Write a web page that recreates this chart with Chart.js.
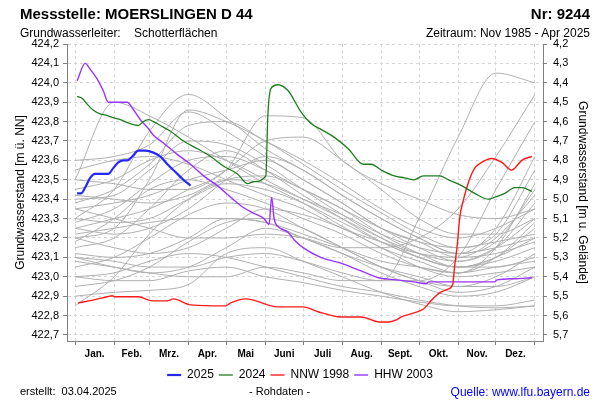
<!DOCTYPE html>
<html>
<head>
<meta charset="utf-8">
<script src="https://cdn.jsdelivr.net/npm/chart.js@4.4.1/dist/chart.umd.min.js"></script>
<style>
body { margin: 0; background: #fff; font-family: "Liberation Sans", Arial, sans-serif; }
#wrap { position: relative; width: 600px; height: 400px; }
canvas { position: absolute; left: 0; top: 0; }
.t { position: absolute; white-space: pre; color: #000; line-height: 1; }
</style>
</head>
<body>
<div id="wrap">
  <canvas id="chart" width="600" height="400"></canvas>
  <div class="t" style="left:20px;top:6px;font-size:15px;font-weight:bold">Messstelle: MOERSLINGEN D 44</div>
  <div class="t" style="right:10px;top:6px;font-size:15px;font-weight:bold">Nr: 9244</div>
  <div class="t" style="left:20px;top:27px;font-size:12px">Grundwasserleiter:    Schotterflächen</div>
  <div class="t" style="right:10px;top:27px;font-size:12px">Zeitraum: Nov 1985 - Apr 2025</div>
  <div class="t" style="left:20px;top:386px;font-size:11px">erstellt:  03.04.2025</div>
  <div class="t" style="left:249px;top:386px;font-size:11px">- Rohdaten -</div>
  <div class="t" style="right:10px;top:386px;font-size:12px;color:#0000ff">Quelle: www.lfu.bayern.de</div>
</div>
<script>
// x values are day of year (0 = 1. Jan)
const monthStarts = [0, 31, 59, 90, 120, 151, 181, 212, 243, 273, 304, 334, 365];
const monthMids = [15.5, 45, 74.5, 105, 135.5, 166, 196.5, 227.5, 258, 288.5, 319, 349.5];
const monthNames = ['Jan.', 'Feb.', 'Mrz.', 'Apr.', 'Mai', 'Juni', 'Juli', 'Aug.', 'Sept.', 'Okt.', 'Nov.', 'Dez.'];
const levelTicks = [422.7, 422.8, 422.9, 423.0, 423.1, 423.2, 423.3, 423.4, 423.5, 423.6, 423.7, 423.8, 423.9, 424.0, 424.1, 424.2];
const depthTicks = [4.2, 4.3, 4.4, 4.5, 4.6, 4.7, 4.8, 4.9, 5.0, 5.1, 5.2, 5.3, 5.4, 5.5, 5.6, 5.7];
const groundLevel = 428.4;

const days2025 = [1.6, 4.8, 8, 12, 15.9, 22.3, 26.3, 30.3, 34.3, 38.3, 41.4, 45.4, 50.2, 55.8, 62.2, 67.7, 73.3, 79.7, 86, 91.6];
const level2025 = [423.43, 423.43, 423.46, 423.51, 423.53, 423.53, 423.53, 423.56, 423.59, 423.6, 423.6, 423.62, 423.65, 423.65, 423.64, 423.62, 423.58, 423.54, 423.5, 423.47];

const days2024 = [1.6, 5.6, 9.6, 14.3, 19.9, 26.3, 30.3, 35.9, 43.8, 50.2, 54.2, 58.2, 62.2, 67.7, 75.7, 86, 97.2, 107.6, 118, 129, 137, 141.9, 151.4, 153, 155.4, 161, 169, 179.3, 187.3, 195.3, 205.6, 216.8, 228.7, 235, 243, 253.4, 261.4, 268.6, 276.5, 289.3, 296.5, 306.8, 317.2, 328.3, 333.1, 341.1, 349, 354.6, 362.6];
const level2024 = [423.93, 423.92, 423.89, 423.86, 423.84, 423.83, 423.82, 423.81, 423.79, 423.78, 423.8, 423.81, 423.8, 423.78, 423.75, 423.7, 423.66, 423.62, 423.57, 423.53, 423.48, 423.49, 423.52, 423.83, 423.97, 423.99, 423.96, 423.85, 423.79, 423.76, 423.72, 423.66, 423.58, 423.58, 423.55, 423.52, 423.51, 423.5, 423.52, 423.52, 423.5, 423.47, 423.43, 423.4, 423.41, 423.43, 423.46, 423.46, 423.44];

const days1998 = [2.4, 14.3, 25.5, 29.5, 31.9, 50.2, 61.4, 73.3, 78.1, 91.6, 119.5, 123.5, 135.5, 161, 181, 192.9, 211.2, 227.1, 241.5, 248.6, 255, 259, 267, 276.5, 283, 289.3, 296.5, 299.7, 301.2, 303.6, 305.2, 308.4, 312.4, 317.2, 322.8, 330.7, 338.7, 346.7, 349, 354.6, 362.6];
const level1998 = [422.865, 422.88, 422.897, 422.902, 422.897, 422.897, 422.876, 422.876, 422.886, 422.855, 422.85, 422.865, 422.886, 422.845, 422.845, 422.82, 422.793, 422.793, 422.767, 422.767, 422.778, 422.793, 422.81, 422.834, 422.88, 422.917, 422.938, 422.96, 423.05, 423.18, 423.3, 423.4, 423.49, 423.56, 423.59, 423.61, 423.59, 423.55, 423.56, 423.6, 423.62];

const days2003 = [1.6, 8, 12, 17.5, 22.3, 26.3, 30.3, 35.9, 41.4, 45.4, 51.8, 57.4, 62.2, 70.1, 81.3, 91.6, 102, 113, 123.5, 133, 141, 150, 154, 156, 158, 161, 169, 174, 181, 195, 211, 227, 241, 255, 269, 279, 280.5, 301, 333, 335, 349, 362.6];
const level2003 = [424.01, 424.1, 424.07, 424.02, 423.96, 423.9, 423.9, 423.9, 423.9, 423.87, 423.81, 423.77, 423.73, 423.69, 423.63, 423.58, 423.52, 423.47, 423.41, 423.36, 423.33, 423.3, 423.27, 423.41, 423.3, 423.26, 423.23, 423.19, 423.15, 423.1, 423.07, 423.03, 422.995, 422.984, 422.974, 422.964, 422.974, 422.974, 422.974, 422.984, 422.99, 422.995];

// other years, one value per month start (+ 31. Dez.)
const grayLines = [
  [423.5, 423.9, 423.83, 423.72, 423.6, 423.48, 423.38, 423.26, 423.15, 423.08, 423.02, 423.05, 423.08],
  [423.3, 423.45, 423.75, 423.94, 423.82, 423.66, 423.55, 423.42, 423.3, 423.2, 423.12, 423.15, 423.2],
  [423.2, 423.25, 423.5, 423.86, 423.8, 423.7, 423.58, 423.45, 423.33, 423.22, 423.15, 423.18, 423.22],
  [423.25, 423.3, 423.35, 423.45, 423.55, 423.83, 423.82, 423.6, 423.48, 423.4, 423.32, 423.3, 423.35],
  [423.1, 423.05, 423.02, 423.0, 423.0, 423.05, 423.02, 422.98, 422.98, 423.3, 423.72, 424.05, 424.0],
  [423.35, 423.3, 423.25, 423.2, 423.2, 423.22, 423.2, 423.15, 423.15, 423.2, 423.35, 423.62, 423.94],
  [423.0, 422.98, 422.98, 423.03, 423.05, 423.0, 422.97, 422.93, 422.9, 422.87, 422.85, 422.85, 422.88],
  [422.85, 423.0, 423.22, 423.4, 423.5, 423.52, 423.45, 423.35, 423.22, 423.12, 423.05, 423.08, 423.15],
  [422.9, 422.92, 422.93, 422.96, 423.12, 423.15, 423.08, 423.0, 422.92, 422.86, 422.82, 422.83, 422.85],
  [423.45, 423.5, 423.6, 423.65, 423.6, 423.5, 423.4, 423.3, 423.2, 423.12, 423.08, 423.15, 423.3],
  [423.4, 423.42, 423.55, 423.7, 423.68, 423.58, 423.45, 423.32, 423.2, 423.1, 423.05, 423.1, 423.2],
  [423.35, 423.38, 423.42, 423.5, 423.55, 423.6, 423.5, 423.38, 423.25, 423.15, 423.08, 423.15, 423.38],
  [423.3, 423.28, 423.3, 423.4, 423.48, 423.45, 423.38, 423.28, 423.18, 423.1, 423.05, 423.05, 423.1],
  [423.25, 423.22, 423.25, 423.35, 423.5, 423.62, 423.55, 423.42, 423.3, 423.2, 423.12, 423.18, 423.45],
  [423.2, 423.15, 423.12, 423.15, 423.25, 423.35, 423.32, 423.25, 423.15, 423.05, 423.0, 423.02, 423.05],
  [423.15, 423.2, 423.35, 423.55, 423.65, 423.55, 423.42, 423.3, 423.18, 423.1, 423.05, 423.1, 423.25],
  [423.12, 423.1, 423.12, 423.2, 423.3, 423.28, 423.2, 423.12, 423.05, 423.0, 422.95, 422.95, 423.0],
  [423.05, 423.1, 423.2, 423.32, 423.38, 423.35, 423.25, 423.15, 423.05, 422.98, 422.95, 423.0, 423.12],
  [423.55, 423.6, 423.62, 423.58, 423.5, 423.42, 423.35, 423.25, 423.18, 423.12, 423.1, 423.2, 423.42],
  [423.5, 423.48, 423.45, 423.45, 423.55, 423.7, 423.72, 423.6, 423.45, 423.3, 423.22, 423.22, 423.3],
  [423.6, 423.62, 423.68, 423.85, 423.75, 423.62, 423.5, 423.38, 423.25, 423.18, 423.15, 423.22, 423.55],
  [423.22, 423.25, 423.28, 423.3, 423.3, 423.28, 423.22, 423.15, 423.08, 423.05, 423.02, 423.1, 423.28],
  [423.28, 423.35, 423.48, 423.6, 423.62, 423.55, 423.45, 423.35, 423.25, 423.18, 423.1, 423.12, 423.18],
  [422.95, 422.98, 423.05, 423.18, 423.28, 423.3, 423.25, 423.15, 423.05, 422.98, 422.92, 422.95, 423.05],
  [423.08, 423.05, 423.02, 423.05, 423.15, 423.25, 423.2, 423.12, 423.02, 422.95, 422.9, 422.92, 423.0],
  [423.38, 423.45, 423.58, 423.78, 423.8, 423.7, 423.6, 423.48, 423.35, 423.25, 423.2, 423.25, 423.35],
  [423.0, 423.02, 423.08, 423.12, 423.1, 423.05, 423.0, 422.95, 422.92, 422.88, 422.85, 422.84, 422.85],
  [423.18, 423.3, 423.45, 423.5, 423.45, 423.38, 423.3, 423.22, 423.12, 423.05, 423.02, 423.15, 423.48],
  [423.42, 423.4, 423.38, 423.42, 423.5, 423.48, 423.4, 423.32, 423.22, 423.15, 423.12, 423.25, 423.62],
  [423.1, 423.08, 423.05, 423.05, 423.1, 423.12, 423.08, 423.02, 422.98, 422.98, 423.1, 423.45, 423.8]
];

function toPoints(days, vals) {
    return days.map((d, i) => ({ x: d, y: vals[i] }));
}

const fixTicks = list => scale => { scale.ticks = list.map(v => ({ value: v })); };
const comma = v => v.toFixed(1).replace('.', ',');

const datasets = [
    { label: '2025', data: toPoints(days2025, level2025), borderColor: '#2626ff', borderWidth: 2.2, order: 0 },
    { label: '2024', data: toPoints(days2024, level2024), borderColor: '#1d7d1d', borderWidth: 1.3, order: 0 },
    { label: 'NNW 1998', data: toPoints(days1998, level1998), borderColor: '#ff1a1a', borderWidth: 1.4, order: 0 },
    { label: 'HHW 2003', data: toPoints(days2003, level2003), borderColor: '#9933ff', borderWidth: 1.4, order: 0 }
];
grayLines.forEach(vals => {
    datasets.push({ label: '', data: toPoints(monthStarts, vals), borderColor: '#b0b0b0', borderWidth: 1, order: 1 });
});

const axisColor = '#808080';
const gridColor = '#d6d6d6';
const font = 'Liberation Sans, Arial, sans-serif';

new Chart(document.getElementById('chart'), {
    type: 'line',
    data: { datasets: datasets },
    options: {
        responsive: false,
        animation: false,
        layout: { padding: { top: 44, left: 0, right: 0, bottom: 9 } },
        elements: {
            point: { radius: 0 },
            line: { cubicInterpolationMode: 'monotone', fill: false }
        },
        plugins: {
            tooltip: { enabled: false },
            legend: {
                position: 'bottom',
                labels: {
                    filter: item => item.text !== '',
                    usePointStyle: true,
                    pointStyle: 'line',
                    pointStyleWidth: 14,
                    boxHeight: 12,
                    padding: 5,
                    color: '#000',
                    font: { family: font, size: 12 }
                }
            }
        },
        scales: {
            x: {
                type: 'linear', position: 'bottom', min: -6.4, max: 371.4,
                afterBuildTicks: fixTicks(monthStarts),
                afterFit: s => { s.height = 5; },
                ticks: { display: false },
                grid: { color: gridColor, tickLength: 4, tickColor: axisColor },
                border: { color: axisColor, dash: [3, 3] }
            },
            xm: {
                type: 'linear', position: 'bottom', min: -6.4, max: 371.4,
                afterBuildTicks: fixTicks(monthMids),
                afterFit: s => { s.height = 18; },
                ticks: {
                    autoSkip: false, maxRotation: 0, padding: 2, color: '#000',
                    font: { family: font, size: 10, weight: 'bold' },
                    callback: (v, i) => monthNames[i]
                },
                grid: { display: false, drawTicks: false, tickLength: 0 },
                border: { display: false }
            },
            y: {
                type: 'linear', position: 'left', min: 422.669, max: 424.2,
                afterBuildTicks: fixTicks(levelTicks),
                afterFit: s => { s.width = 67; },
                ticks: { autoSkip: false, padding: 4, color: '#000', font: { family: font, size: 11 }, callback: comma },
                grid: { color: gridColor, tickLength: 4, tickColor: axisColor },
                border: { color: axisColor, dash: [3, 3] },
                title: { display: true, text: 'Grundwasserstand [m ü. NN]', color: '#000', font: { family: font, size: 12 }, padding: { top: 13, bottom: 0 } }
            },
            y2: {
                type: 'linear', position: 'right', reverse: true, min: 4.2, max: groundLevel - 422.669,
                afterBuildTicks: fixTicks(depthTicks),
                afterFit: s => { s.width = 57; },
                ticks: { autoSkip: false, padding: 6, color: '#000', font: { family: font, size: 11 }, callback: comma },
                grid: { drawOnChartArea: false, tickLength: 4, tickColor: axisColor },
                border: { color: axisColor },
                title: { display: true, text: 'Grundwasserstand [m u. Gelände]', color: '#000', font: { family: font, size: 12 }, padding: { top: 10, bottom: 0 } }
            }
        }
    }
});
</script>
</body>
</html>
